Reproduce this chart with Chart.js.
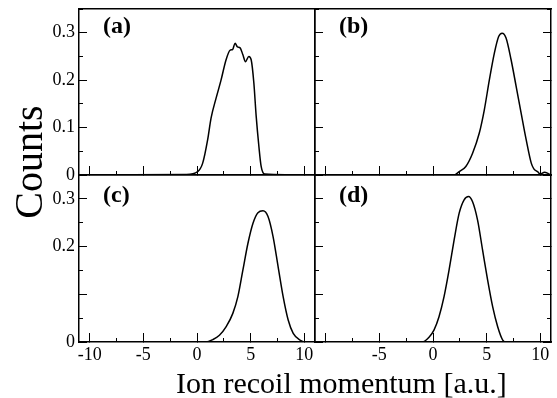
<!DOCTYPE html>
<html>
<head>
<meta charset="utf-8">
<script src="https://cdn.jsdelivr.net/npm/chart.js@4.4.0/dist/chart.umd.min.js"></script>
<style>
  body { margin: 0; background: #fff; }
  #wrap { position: relative; width: 557px; height: 398px; }
  #wrap canvas { position: absolute; left: 0; top: 0; }
</style>
</head>
<body>
<div id="wrap">
  <canvas id="pa" width="557" height="398"></canvas>
  <canvas id="pb" width="557" height="398"></canvas>
  <canvas id="pc" width="557" height="398"></canvas>
  <canvas id="pd" width="557" height="398"></canvas>
</div>
<script>
// values, momentum [a.u.] vs counts
const xA = [-11, -1.0, 0.06, 0.53, 0.99, 1.31, 1.78, 2.24, 2.71, 3.08, 3.33, 3.55, 3.77, 4.02, 4.27, 4.52, 4.83, 5.05, 5.3, 5.52, 5.77, 5.98, 6.3, 11];
const yA = [0, 0.001, 0.007, 0.025, 0.074, 0.12, 0.162, 0.2, 0.243, 0.263, 0.265, 0.278, 0.27, 0.268, 0.254, 0.239, 0.25, 0.243, 0.194, 0.123, 0.06, 0.018, 0.002, 0];

const xB = [-11, 1.97, 2.44, 3.06, 3.69, 4.31, 4.78, 5.25, 5.72, 6.12, 6.44, 6.81, 7.28, 7.75, 8.22, 8.69, 9.16, 9.4, 9.75, 10.0, 10.4, 10.75, 11];
const yB = [0, 0, 0.007, 0.018, 0.046, 0.088, 0.137, 0.2, 0.257, 0.292, 0.299, 0.289, 0.243, 0.187, 0.13, 0.074, 0.025, 0.013, 0.007, 0.002, 0.006, 0.003, 0];

const xC = [-11, 0.84, 1.47, 2.09, 2.72, 3.34, 3.81, 4.28, 4.75, 5.22, 5.68, 6.15, 6.62, 7.09, 7.56, 8.03, 8.5, 8.97, 9.6, 10.06, 11];
const yC = [0, 0, 0.005, 0.014, 0.032, 0.06, 0.095, 0.151, 0.207, 0.249, 0.271, 0.275, 0.263, 0.221, 0.158, 0.095, 0.046, 0.018, 0.004, 0, 0];

const xD = [-11, -1.0, -0.37, 0.09, 0.56, 1.03, 1.5, 1.97, 2.44, 2.9, 3.31, 3.69, 4.16, 4.62, 5.09, 5.56, 6.03, 6.5, 6.81, 11];
const yD = [0, 0, 0.01, 0.025, 0.053, 0.095, 0.151, 0.214, 0.27, 0.298, 0.305, 0.294, 0.255, 0.193, 0.13, 0.074, 0.032, 0.004, 0, 0];

// ticks
const xMajor = [-10, -5, 0, 5, 10];
const xMinor = [-10, -7.5, -5, -2.5, 0, 2.5, 5, 7.5, 10];
const yMajor = [0, 0.1, 0.2, 0.3];
const yMinor = [0, 0.05, 0.1, 0.15, 0.2, 0.25, 0.3, 0.35];
const xLabelsLeft = ['-10', '-5', '0', '5', '10'];
const xLabelsRight = ['-5', '0', '5', '10'];
const yLabelsTop = ['0', '0.1', '0.2', '0.3'];
const yLabelsBottom = ['0', '0.2', '0.3'];

const serif = '"Liberation Serif", "Times New Roman", serif';

function pts(xs, ys) {
    return xs.map((x, i) => ({x: x, y: ys[i]}));
}

// fixed box size, no extra padding for labels
function fixSize(size) {
    return function(axis) {
        if (axis.isHorizontal()) axis.height = size; else axis.width = size;
        axis.paddingTop = axis.paddingBottom = axis.paddingLeft = axis.paddingRight = 0;
    };
}

function tickAxis(position, min, max, values, len, labels, size, pad) {
    return {
        type: 'linear',
        position: position,
        min: min,
        max: max,
        weight: labels ? 1 : 0,
        afterBuildTicks: function(axis) { axis.ticks = values.map(v => ({value: v})); },
        afterFit: fixSize(size),
        grid: {drawOnChartArea: false, drawTicks: true, tickLength: -len, tickColor: '#000', tickWidth: 1},
        border: {display: len > 5, color: '#000', width: 1.5},
        ticks: {
            display: labels != null,
            autoSkip: false,
            maxRotation: 0,
            padding: pad,
            color: '#000',
            font: {family: serif, size: 18},
            callback: function(v) { return labels && labels.includes(String(v)) ? String(v) : ''; }
        }
    };
}

function frameAxis(position, min, max) {
    return {
        type: 'linear', position: position, min: min, max: max,
        afterFit: fixSize(0),
        grid: {display: false},
        border: {display: true, color: '#000', width: 1.5},
        ticks: {display: false}
    };
}

const tagPlugin = {
    id: 'tag',
    afterDraw: function(chart, args, o) {
        const ctx = chart.ctx;
        const a = chart.chartArea;
        ctx.save();
        ctx.fillStyle = '#000';
        ctx.font = 'bold 24px ' + serif;
        ctx.textBaseline = 'alphabetic';
        ctx.fillText(o.text, a.left + 24, a.top + o.dy);
        if (o.titles) {
            ctx.font = '40px ' + serif;
            ctx.textAlign = 'center';
            ctx.translate(42, 162);
            ctx.rotate(-Math.PI / 2);
            ctx.fillText('Counts', 0, 0);
            ctx.setTransform(1, 0, 0, 1, 0, 0);
            ctx.font = '30px ' + serif;
            ctx.textAlign = 'left';
            ctx.fillText('Ion recoil momentum [a.u.]', 176, 393);
        }
        ctx.restore();
    }
};

function panel(id, p) {
    const left = p.yLabels ? 79 : 0;
    const bottom = p.xLabels ? 56 : 0;
    const scales = {
        x: tickAxis('bottom', -11, 11, xMajor, 9, p.xLabels, bottom, 11),
        x2: tickAxis('bottom', -11, 11, xMinor, 4, null, 0, 0),
        xt: frameAxis('top', -11, 11),
        y: tickAxis('left', 0, 0.35, yMajor, 8, p.yLabels, left, 12),
        y2: tickAxis('left', 0, 0.35, yMinor, 4, null, 0, 0)
    };
    if (p.right) {
        scales.yr = tickAxis('right', 0, 0.35, yMajor, 8, null, 0, 0);
        scales.yr2 = tickAxis('right', 0, 0.35, yMinor, 4, null, 0, 0);
    } else {
        scales.yr = frameAxis('right', 0, 0.35);
    }
    const pad = {left: p.box[0] - left, top: p.box[1], right: 557 - p.box[2], bottom: 398 - p.box[3] - bottom};
    new Chart(document.getElementById(id), {
        type: 'scatter',
        data: {
            datasets: [{
                data: pts(p.xs, p.ys),
                showLine: true,
                borderColor: '#000',
                borderWidth: 1.5,
                pointRadius: 0,
                cubicInterpolationMode: 'monotone'
            }]
        },
        options: {
            responsive: false,
            animation: false,
            devicePixelRatio: 1,
            layout: {padding: pad},
            scales: scales,
            plugins: {
                legend: {display: false},
                tooltip: {enabled: false},
                tag: {text: p.tag, dy: p.dy, titles: p.titles}
            }
        },
        plugins: [tagPlugin]
    });
}

panel('pa', {xs: xA, ys: yA, xLabels: null, yLabels: yLabelsTop, right: false, tag: '(a)', dy: 24, box: [79, 9, 315, 175]});
panel('pb', {xs: xB, ys: yB, xLabels: null, yLabels: null, right: true, tag: '(b)', dy: 24, box: [315, 9, 551, 175]});
panel('pc', {xs: xC, ys: yC, xLabels: xLabelsLeft, yLabels: yLabelsBottom, right: false, tag: '(c)', dy: 27, box: [79, 175, 315, 342]});
panel('pd', {xs: xD, ys: yD, xLabels: xLabelsRight, yLabels: null, right: true, tag: '(d)', dy: 27, titles: true, box: [315, 175, 551, 342]});
</script>
</body>
</html>
